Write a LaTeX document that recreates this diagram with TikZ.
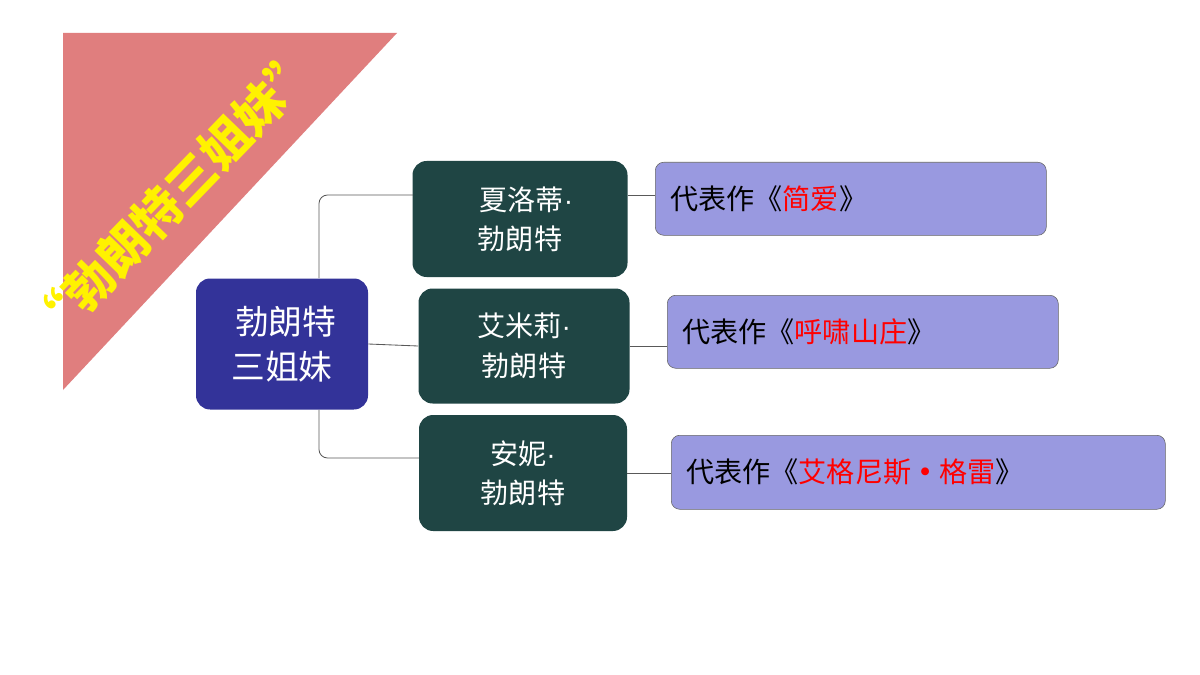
\documentclass[tikz,border=0pt]{standalone}
\usepackage{fontspec}
\setmainfont{Noto Sans CJK SC}
\newfontfamily\latin{Liberation Sans}
\newcommand{\md}{{\latin ·}}
\begin{document}
\begin{tikzpicture}[x=0.025cm,y=-0.025cm,
  sis/.style={draw=none,fill=sisfill,rounded corners=10pt,text=white,align=center,font=\fontsize{20}{28}\selectfont},
  work/.style={draw=gray!80!black,fill=workfill,rounded corners=6pt,anchor=north west,font=\fontsize{20}{24}\selectfont,inner xsep=0pt},
  conn/.style={draw=gray!70!black,line width=0.6pt}]
\definecolor{sisfill}{HTML}{1F4544}
\definecolor{rootfill}{HTML}{333399}
\definecolor{workfill}{HTML}{9999E0}
\definecolor{tri}{HTML}{E07E7E}
\useasboundingbox[fill=white] (0,0) rectangle (1200,675);
\fill[tri] (63,33) -- (397,33) -- (63,390) -- cycle;
\node (title) [rotate=46,text=yellow,font=\bfseries\fontsize{35}{38}\selectfont] at (174,196) {“勃朗特三姐妹”};
\node (root) [sis,fill=rootfill,minimum width=172*0.025cm,minimum height=131*0.025cm,font=\fontsize{24}{32}\selectfont] at (282,344) {\ 勃朗特\\三姐妹};
\node (a) [sis,minimum width=215*0.025cm,minimum height=116*0.025cm] at (520,219) {\ \ 夏洛蒂\md\\勃朗特};
\node (b) [sis,minimum width=211*0.025cm,minimum height=115*0.025cm] at (524,346) {艾米莉\md\\勃朗特};
\node (c) [sis,minimum width=208*0.025cm,minimum height=116*0.025cm] at (523,473) {安妮\md\\勃朗特};
\node (w1) [work,minimum width=391*0.025cm,minimum height=73*0.025cm] at (655,162) {};
\node (w2) [work,minimum width=391*0.025cm,minimum height=73*0.025cm] at (667,295) {};
\node (w3) [work,minimum width=494*0.025cm,minimum height=74*0.025cm] at (671,435) {};
\node (t1) [anchor=west,font=\fontsize{20}{24}\selectfont,inner sep=0pt] at (670,199) {代表作《\textcolor{red}{简爱}》};
\node (t2) [anchor=west,font=\fontsize{20}{24}\selectfont,inner sep=0pt] at (682,332) {代表作《\textcolor{red}{呼啸山庄}》};
\node (t3) [anchor=west,font=\fontsize{20}{24}\selectfont,inner sep=0pt] at (686,472) {代表作《\textcolor{red}{艾格尼斯\textbf{·}格雷}》};
\coordinate (ja) at (413,195);
\coordinate (jc) at (419,458);
\draw[conn] (root.east) -- (b.west);
\draw[conn,rounded corners=6pt] (root.north) ++(37,0) |- (ja);
\draw[conn,rounded corners=6pt] (root.south) ++(37,0) |- (jc);
\draw[conn] (ja -| a.east) -- (ja -| w1.west);
\draw[conn] (b.east) -- (b.east -| w2.west);
\draw[conn] (c.east) -- (c.east -| w3.west);
\end{tikzpicture}
\end{document}
